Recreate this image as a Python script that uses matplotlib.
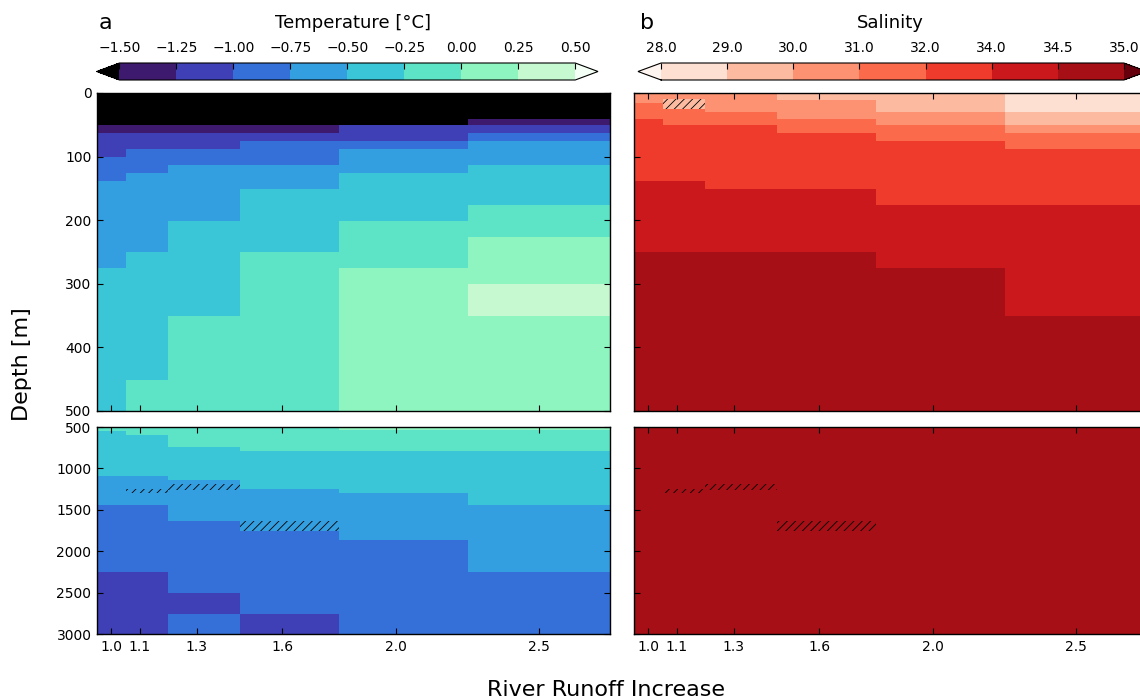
import numpy as np
import matplotlib
matplotlib.use('Agg')
from matplotlib import pyplot as plt
from matplotlib.colors import ListedColormap, BoundaryNorm
from matplotlib.cm import ScalarMappable

runoff = [1.0, 1.1, 1.3, 1.6, 2.0, 2.5]

temp_levels = [-1.5, -1.25, -1.0, -0.75, -0.5, -0.25, 0.0, 0.25, 0.5]
sal_levels = [28.0, 29.0, 30.0, 31.0, 32.0, 34.0, 34.5, 35.0]

# layer bottoms [m] and layer temperature [degC], one list per run
temp_bottom = [
    [51, 63, 101, 138.5, 275.5, 500, 544, 1094, 1447, 2257, 3000],
    [51, 63, 88.5, 126, 250, 451, 593, 1094, 1447, 2257, 3000],
    [51, 63, 88.5, 113.5, 201, 351, 737, 1146, 1635, 2502, 2755, 3000],
    [51, 63, 75.5, 113.5, 151, 250.5, 793, 1246, 1756, 2755, 3000],
    [51, 75.5, 88.5, 126, 201, 275.5, 540, 793, 1294, 1868, 3000],
    [40.6, 51, 63, 75.5, 113.5, 176, 226, 301, 351, 540, 793, 1447, 2257, 3000],
]
temp_value = [
    [-1.72, -1.38, -1.12, -0.86, -0.62, -0.37, -0.14, -0.36, -0.63, -0.88, -1.09],
    [-1.72, -1.36, -1.11, -0.87, -0.61, -0.38, -0.12, -0.37, -0.62, -0.87, -1.11],
    [-1.71, -1.37, -1.10, -0.88, -0.62, -0.36, -0.13, -0.38, -0.61, -0.89, -1.06, -0.94],
    [-1.70, -1.35, -1.08, -0.86, -0.63, -0.38, -0.11, -0.36, -0.64, -0.91, -1.04],
    [-1.68, -1.12, -0.87, -0.61, -0.37, -0.12, 0.08, -0.10, -0.35, -0.62, -0.88],
    [-1.63, -1.28, -1.06, -0.82, -0.58, -0.34, -0.09, 0.12, 0.31, 0.14, -0.08, -0.33, -0.57, -0.81],
]

# layer bottoms [m] and salinity, one list per run
sal_bottom = [
    [16, 41, 138.5, 250, 3000],
    [9.4, 25, 50.6, 138.5, 250, 3000],
    [30, 50.6, 151, 250, 3000],
    [10.5, 40.6, 63, 151, 250, 3000],
    [30, 51, 75, 176, 275.5, 3000],
    [30, 50, 63, 88, 176, 351, 3000],
]
sal_value = [
    [30.6, 31.5, 33.1, 34.3, 34.8],
    [30.4, 29.7, 31.4, 33.0, 34.3, 34.8],
    [30.5, 31.6, 33.2, 34.3, 34.8],
    [29.6, 30.5, 31.5, 33.0, 34.3, 34.8],
    [29.4, 30.5, 31.6, 33.1, 34.3, 34.8],
    [28.6, 29.5, 30.6, 31.5, 33.2, 34.3, 34.8],
]

# hatched cells
hatch_run = [1.1, 1.1, 1.3, 1.6]
hatch_top = [9.4, 1246, 1194, 1635]
hatch_bottom = [25, 1302, 1256, 1756]

temp_colors = ['#3d1a6e', '#3f40b5', '#3570d8', '#339fe0', '#3ac6d6',
               '#5de3c6', '#8ef5c0', '#c7f9d1']
sal_colors = ['#fee0d2', '#fcbba1', '#fc9272', '#fb6a4a', '#ef3b2c',
              '#cb181d', '#a50f15']

plt.rcParams['font.family'] = 'DejaVu Sans'
plt.rcParams['hatch.linewidth'] = 0.6

def build(bottoms, values):
    edges = np.unique(np.concatenate([[0.0]] + [np.asarray(b, float) for b in bottoms]))
    mid = 0.5 * (edges[:-1] + edges[1:])
    grid = np.empty((len(mid), len(bottoms)))
    for j, (b, v) in enumerate(zip(bottoms, values)):
        grid[:, j] = np.asarray(v)[np.searchsorted(b, mid)]
    return edges, grid

r = np.array(runoff)
xe = np.concatenate([[r[0] - (r[1] - r[0]) / 2], (r[:-1] + r[1:]) / 2,
                     [r[-1] + (r[-1] - r[-2]) / 2]])

W, H = 1140., 699.
fig = plt.figure(figsize=(W / 100, H / 100), dpi=100)

def px_axes(x0, y0, x1, y1):
    return fig.add_axes([x0 / W, 1 - y1 / H, (x1 - x0) / W, (y1 - y0) / H])

t_cmap = ListedColormap(temp_colors)
t_cmap.set_under('black'); t_cmap.set_over('#f4fff6')
t_norm = BoundaryNorm(temp_levels, t_cmap.N)
s_cmap = ListedColormap(sal_colors)
s_cmap.set_under('#fff5f0'); s_cmap.set_over('#67000d')
s_norm = BoundaryNorm(sal_levels, s_cmap.N)

t_edges, t_grid = build(temp_bottom, temp_value)
s_edges, s_grid = build(sal_bottom, sal_value)

panels = [(97, t_edges, t_grid, t_cmap, t_norm), (634, s_edges, s_grid, s_cmap, s_norm)]
for col, (x0, edges, grid, cmap, norm) in enumerate(panels):
    for row, (y0, y1, ylim, yt) in enumerate([(93, 411, (500, 0), np.arange(0, 501, 100)),
                                               (427, 634, (3000, 500), np.arange(500, 3001, 500))]):
        ax = px_axes(x0, y0, x0 + 513, y1)
        ax.pcolormesh(xe, edges, grid, cmap=cmap, norm=norm, shading='flat',
                      antialiased=False, linewidth=0)
        for hr, ht, hb in zip(hatch_run, hatch_top, hatch_bottom):
            k = runoff.index(hr)
            ax.bar(xe[k], hb - ht, width=xe[k + 1] - xe[k], bottom=ht, align='edge',
                   fill=False, hatch='////', linewidth=0, edgecolor='k')
        ax.set_xlim(xe[0], xe[-1])
        ax.set_ylim(*ylim)
        ax.set_xticks(runoff)
        ax.set_yticks(yt)
        ax.tick_params(direction='in', top=True, right=True, length=4, width=0.8,
                       labelsize=10, pad=4)
        if col == 0:
            ax.set_yticklabels([str(v) for v in yt])
        else:
            ax.set_yticklabels([])
        if row == 1:
            ax.set_xticklabels(['%.1f' % v for v in runoff])
        else:
            ax.set_xticklabels([])
        for s in ax.spines.values():
            s.set_linewidth(1.0)

# colorbars
for x0, x1, cmap, norm, levels, fmt, title, letter, cx in [
        (96.7, 598, t_cmap, t_norm, temp_levels, '%.2f', 'Temperature [\u00b0C]', 'a', 353),
        (638, 1147, s_cmap, s_norm, sal_levels, '%.1f', 'Salinity', 'b', 890)]:
    cax = px_axes(x0, 63, x1, 80)
    cb = fig.colorbar(ScalarMappable(norm=norm, cmap=cmap), cax=cax,
                      orientation='horizontal', extend='both', ticks=levels)
    cax.xaxis.set_ticks_position('top')
    cax.xaxis.set_label_position('top')
    cax.set_xticklabels([(fmt % v).replace('-', '\u2212') for v in levels])
    cax.tick_params(direction='in', length=4, width=0.8, labelsize=10, pad=6)
    cb.outline.set_linewidth(0.8)
    fig.text(cx / W, 1 - 28 / H, title, ha='center', va='baseline', fontsize=13)
    fig.text((x0 + 2) / W, 1 - 29 / H, letter, ha='left', va='baseline', fontsize=16)

fig.text(22 / W, 1 - 364 / H, 'Depth [m]', rotation=90, ha='center', va='center', fontsize=16)
fig.text(606 / W, 1 - 696 / H, 'River Runoff Increase', ha='center', va='baseline', fontsize=16)

fig.savefig('out.png', dpi=100)
